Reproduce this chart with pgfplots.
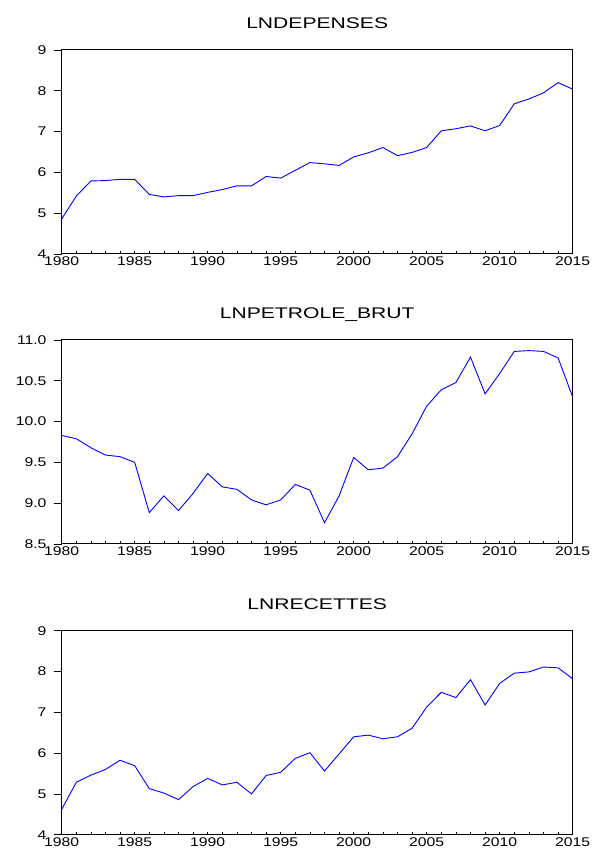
\documentclass[border=0pt]{standalone}
\usepackage{fontspec}
\setmainfont{Liberation Sans}
\newfontfamily\tickfont{Liberation Sans}[FakeStretch=1.25]
\newfontfamily\titlefont{Liberation Sans}[FakeStretch=1.37]
\usepackage{pgfplots}
\usepackage{pgfplotstable}
\pgfplotsset{compat=1.18}

\pgfplotstableread{
year dep pet rec
1980 4.86 9.83 4.62
1981 5.42 9.79 5.285
1982 5.79 9.68 5.46
1983 5.80 9.59 5.60
1984 5.83 9.57 5.825
1985 5.83 9.50 5.69
1986 5.46 8.885 5.13
1987 5.40 9.09 5.02
1988 5.43 8.91 4.86
1989 5.43 9.12 5.18
1990 5.51 9.365 5.38
1991 5.58 9.20 5.22
1992 5.67 9.17 5.285
1993 5.67 9.04 5.00
1994 5.90 8.98 5.45
1995 5.86 9.04 5.53
1996 6.05 9.23 5.87
1997 6.24 9.16 6.01
1998 6.21 8.76 5.56
1999 6.17 9.09 5.98
2000 6.38 9.56 6.40
2001 6.48 9.41 6.44
2002 6.61 9.43 6.35
2003 6.41 9.57 6.40
2004 6.49 9.85 6.61
2005 6.61 10.19 7.13
2006 7.02 10.39 7.49
2007 7.07 10.48 7.36
2008 7.14 10.79 7.80
2009 7.02 10.34 7.18
2010 7.15 10.59 7.71
2011 7.68 10.86 7.96
2012 7.80 10.87 7.99
2013 7.95 10.86 8.11
2014 8.20 10.78 8.09
2015 8.04 10.30 7.82
}\datatable

\pgfplotsset{
 evstyle/.style={
  width=511pt, height=204pt, scale only axis,
  xmin=1980, xmax=2015,
  xtick={1980,1985,...,2015},
  minor xtick={1980,1981,...,2015},
  tick align=inside,
  major tick length=8pt,
  minor tick length=3pt,
  xtick pos=bottom, ytick pos=left,
  major x tick style={draw=none},
  ytick style={xshift=-8pt, black, line width=0.8pt},
  minor x tick style={black, line width=0.8pt},
  axis line style={black, line width=1pt},
  /pgf/number format/assume math mode=true,
  /pgf/number format/1000 sep={},
  x tick label style={font=\tickfont\fontsize{12.6}{14}\selectfont, anchor=north, inner sep=0pt, yshift=-2.7pt},
  y tick label style={font=\tickfont\fontsize{12.6}{14}\selectfont, anchor=east, inner sep=0pt, xshift=-15pt},
  title style={font=\titlefont\fontsize{15.4}{17}\selectfont, at={(0.5,1)}, anchor=base, yshift=15.7pt, inner sep=0pt},
  every axis plot/.append style={blue, line width=0.9pt, no marks},
 }
}

\begin{document}
\begin{tikzpicture}
\path[use as bounding box] (0,0) rectangle (592pt,852pt);
\begin{axis}[evstyle, at={(61.7pt,598pt)}, anchor=south west,
  ymin=4, ymax=9, ytick={4,5,6,7,8,9}, title={LNDEPENSES}]
\addplot table[x=year, y=dep] {\datatable};
\end{axis}
\begin{axis}[evstyle, at={(61.7pt,308pt)}, anchor=south west,
  ymin=8.5, ymax=11, ytick={8.5,9,9.5,10,10.5,11},
  yticklabel style={/pgf/number format/fixed, /pgf/number format/fixed zerofill, /pgf/number format/precision=1},
  title={LNPETROLE\_BRUT}]
\addplot table[x=year, y=pet] {\datatable};
\end{axis}
\begin{axis}[evstyle, at={(61.7pt,17.3pt)}, anchor=south west,
  ymin=4, ymax=9, ytick={4,5,6,7,8,9}, title={LNRECETTES}]
\addplot table[x=year, y=rec] {\datatable};
\end{axis}
\end{tikzpicture}
\end{document}
